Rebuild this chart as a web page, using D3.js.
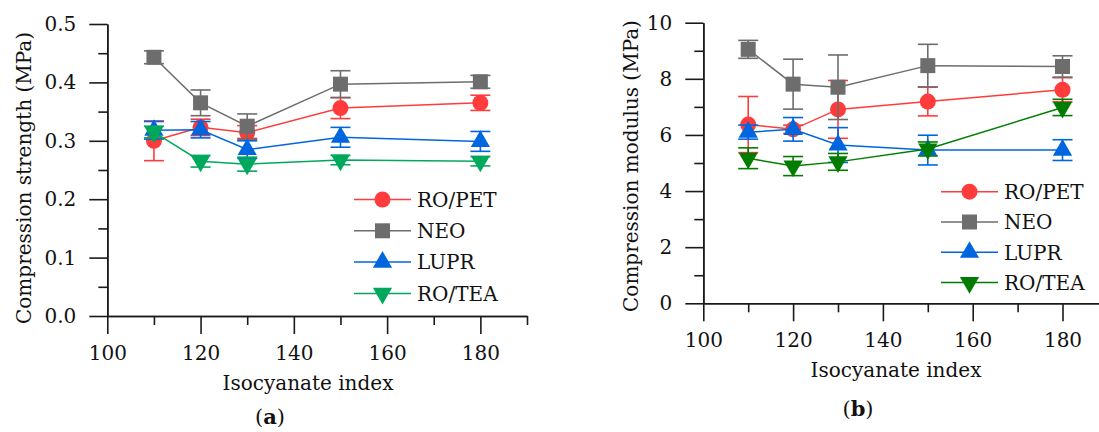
<!DOCTYPE html>
<html><head><meta charset="utf-8">
<script src="https://cdn.jsdelivr.net/npm/d3@7"></script>
<style>
body{margin:0;background:#fff;}
svg{display:block;font-family:'DejaVu Serif',serif;}
</style></head>
<body><svg id="c" width="1099" height="432"></svg>
<script>
// ---------- DATA ----------
const isoIndex = [110, 120, 130, 150, 180];
const seriesNames = ["RO/PET", "NEO", "LUPR", "RO/TEA"];

// (a) Compression strength (MPa)
const strengthROPET = [0.300, 0.323, 0.314, 0.356, 0.365];
const strengthROPETErr = [0.034, 0.014, 0.012, 0.018, 0.013];
const strengthNEO = [0.443, 0.365, 0.325, 0.397, 0.401];
const strengthNEOErr = [0.011, 0.022, 0.021, 0.023, 0.011];
const strengthLUPR = [0.318, 0.319, 0.285, 0.306, 0.299];
const strengthLUPRErr = [0.015, 0.014, 0.015, 0.017, 0.017];
const strengthROTEA = [0.315, 0.265, 0.260, 0.267, 0.265];
const strengthROTEAErr = [0.010, 0.010, 0.012, 0.008, 0.008];

// (b) Compression modulus (MPa)
const modulusROPET = [6.37, 6.20, 6.91, 7.19, 7.61];
const modulusROPETErr = [1.00, 0.15, 1.03, 0.51, 0.43];
const modulusNEO = [9.05, 7.81, 7.70, 8.47, 8.44];
const modulusNEOErr = [0.32, 0.89, 1.15, 0.76, 0.38];
const modulusLUPR = [6.10, 6.20, 5.64, 5.46, 5.46];
const modulusLUPRErr = [0.25, 0.42, 0.62, 0.53, 0.37];
const modulusROTEA = [5.17, 4.89, 5.04, 5.50, 6.98];
const modulusROTEAErr = [0.37, 0.34, 0.30, 0.25, 0.29];

const xMajorTicks = [100, 120, 140, 160, 180];
const xMinorTicks = [110, 130, 150, 170, 190];
const strengthMajorTicks = [0, 0.1, 0.2, 0.3, 0.4, 0.5];
const strengthMinorTicks = [0.05, 0.15, 0.25, 0.35, 0.45];
const modulusMajorTicks = [0, 2, 4, 6, 8, 10];
const modulusMinorTicks = [1, 3, 5, 7, 9];

// ---------- STYLE ----------
const svg = d3.select("#c");
const FS = 20;
const markerTypes = [d3.symbolCircle, d3.symbolSquare, d3.symbolTriangle, d3.symbolTriangle];
const markerSizes = [201, 225, 160, 160];
const markerRot = [0, 0, 0, 180];

function panel(cfg) {
  const x = d3.scaleLinear().domain([100, 190]).range([cfg.x0, cfg.x1]);
  const y = d3.scaleLinear().domain(cfg.yDomain).range([cfg.yBottom, cfg.yTop]);
  const g = svg.append("g");

  // axes
  const axX = g.append("g").attr("transform", `translate(0,${cfg.yBottom})`);
  axX.call(d3.axisBottom(x).tickValues(xMajorTicks).tickSize(18).tickSizeOuter(0).tickPadding(8).tickFormat(d3.format("d")));
  const axXm = g.append("g").attr("transform", `translate(0,${cfg.yBottom})`);
  axXm.call(d3.axisBottom(x).tickValues(xMinorTicks).tickSize(9).tickSizeOuter(0).tickFormat(""));
  const axY = g.append("g").attr("transform", `translate(${cfg.x0},0)`);
  axY.call(d3.axisLeft(y).tickValues(cfg.majorTicks).tickSize(18).tickSizeOuter(0).tickPadding(13).tickFormat(cfg.fmt));
  const axYm = g.append("g").attr("transform", `translate(${cfg.x0},0)`);
  axYm.call(d3.axisLeft(y).tickValues(cfg.minorTicks).tickSize(9).tickSizeOuter(0).tickFormat(""));
  [axX, axXm, axY, axYm].forEach(a => {
    a.select(".domain").attr("stroke", "#1a1a1a").attr("stroke-width", 1.6);
    a.selectAll(".tick line").attr("stroke", "#1a1a1a").attr("stroke-width", 1.6);
    a.selectAll("text").attr("font-family", "'DejaVu Serif',serif").attr("font-size", FS).attr("fill", "#111");
  });
  axX.selectAll("text").attr("dy", "0.9em");

  // series
  cfg.series.forEach((s, i) => {
    const sg = g.append("g");
    const pts = isoIndex.map((xv, j) => ({ x: xv, y: s.values[j], e: s.err[j] }));
    sg.append("path").datum(pts)
      .attr("d", d3.line().x(d => x(d.x)).y(d => y(d.y)))
      .attr("fill", "none").attr("stroke", s.color).attr("stroke-width", 1.5);
    const eb = sg.selectAll(".eb").data(pts).enter().append("g").attr("stroke", s.color).attr("stroke-width", 1.6);
    eb.append("line").attr("x1", d => x(d.x)).attr("x2", d => x(d.x)).attr("y1", d => y(d.y - d.e)).attr("y2", d => y(d.y + d.e));
    eb.append("line").attr("x1", d => x(d.x) - 10).attr("x2", d => x(d.x) + 10).attr("y1", d => y(d.y + d.e)).attr("y2", d => y(d.y + d.e));
    eb.append("line").attr("x1", d => x(d.x) - 10).attr("x2", d => x(d.x) + 10).attr("y1", d => y(d.y - d.e)).attr("y2", d => y(d.y - d.e));
    sg.selectAll(".mk").data(pts).enter().append("path")
      .attr("d", d3.symbol().type(markerTypes[i]).size(markerSizes[i]))
      .attr("transform", d => `translate(${x(d.x)},${y(d.y)}) rotate(${markerRot[i]})`)
      .attr("fill", s.color);
  });

  // legend
  cfg.series.forEach((s, i) => {
    const ly = cfg.legY + i * cfg.legDy;
    const lg = g.append("g");
    lg.append("line").attr("x1", cfg.legX).attr("x2", cfg.legX + 57).attr("y1", ly).attr("y2", ly)
      .attr("stroke", s.color).attr("stroke-width", 1.5);
    lg.append("path").attr("d", d3.symbol().type(markerTypes[i]).size(markerSizes[i]))
      .attr("transform", `translate(${cfg.legX + 28.5},${ly}) rotate(${markerRot[i]})`).attr("fill", s.color);
    lg.append("text").attr("x", cfg.legX + 63).attr("y", ly).attr("dy", "0.36em")
      .attr("font-size", FS).attr("fill", "#111").text(seriesNames[i]);
  });

  // titles
  g.append("text").attr("transform", `translate(${cfg.yTitleX},${cfg.yTitleY}) rotate(-90)`)
    .attr("text-anchor", "middle").attr("font-size", FS).attr("fill", "#111").text(cfg.yTitle);
  g.append("text").attr("x", cfg.xTitleX).attr("y", cfg.yBottom + 67).attr("dy", "0.35em")
    .attr("text-anchor", "middle").attr("font-size", FS).attr("fill", "#111").text("Isocyanate index");
  const lab = g.append("text").attr("x", cfg.labX).attr("y", cfg.labY).attr("dy", "0.35em")
    .attr("text-anchor", "middle").attr("font-size", FS + 1).attr("fill", "#111");
  lab.append("tspan").text("(");
  lab.append("tspan").attr("font-weight", "bold").text(cfg.letter);
  lab.append("tspan").text(")");
}

panel({
  x0: 107.3, x1: 527, yBottom: 316, yTop: 24, yDomain: [0, 0.5],
  majorTicks: strengthMajorTicks, minorTicks: strengthMinorTicks, fmt: d3.format(".1f"),
  series: [
    { values: strengthROPET, err: strengthROPETErr, color: "#ff3b3b" },
    { values: strengthNEO, err: strengthNEOErr, color: "#6d6d6d" },
    { values: strengthLUPR, err: strengthLUPRErr, color: "#0066e0" },
    { values: strengthROTEA, err: strengthROTEAErr, color: "#00a85c" }
  ],
  legX: 354, legY: 199.5, legDy: 31.3,
  yTitle: "Compression strength (MPa)", yTitleX: 31, yTitleY: 178,
  xTitleX: 308, letter: "a", labX: 270, labY: 417
});

panel({
  x0: 703.3, x1: 1107.4, yBottom: 303.3, yTop: 22.7, yDomain: [0, 10],
  majorTicks: modulusMajorTicks, minorTicks: modulusMinorTicks, fmt: d3.format("d"),
  series: [
    { values: modulusROPET, err: modulusROPETErr, color: "#ff3b3b" },
    { values: modulusNEO, err: modulusNEOErr, color: "#6d6d6d" },
    { values: modulusLUPR, err: modulusLUPRErr, color: "#0066e0" },
    { values: modulusROTEA, err: modulusROTEAErr, color: "#007d00" }
  ],
  legX: 941, legY: 191.7, legDy: 30.3,
  yTitle: "Compression modulus (MPa)", yTitleX: 638, yTitleY: 166,
  xTitleX: 896, letter: "b", labX: 858, labY: 409
});
</script></body></html>
